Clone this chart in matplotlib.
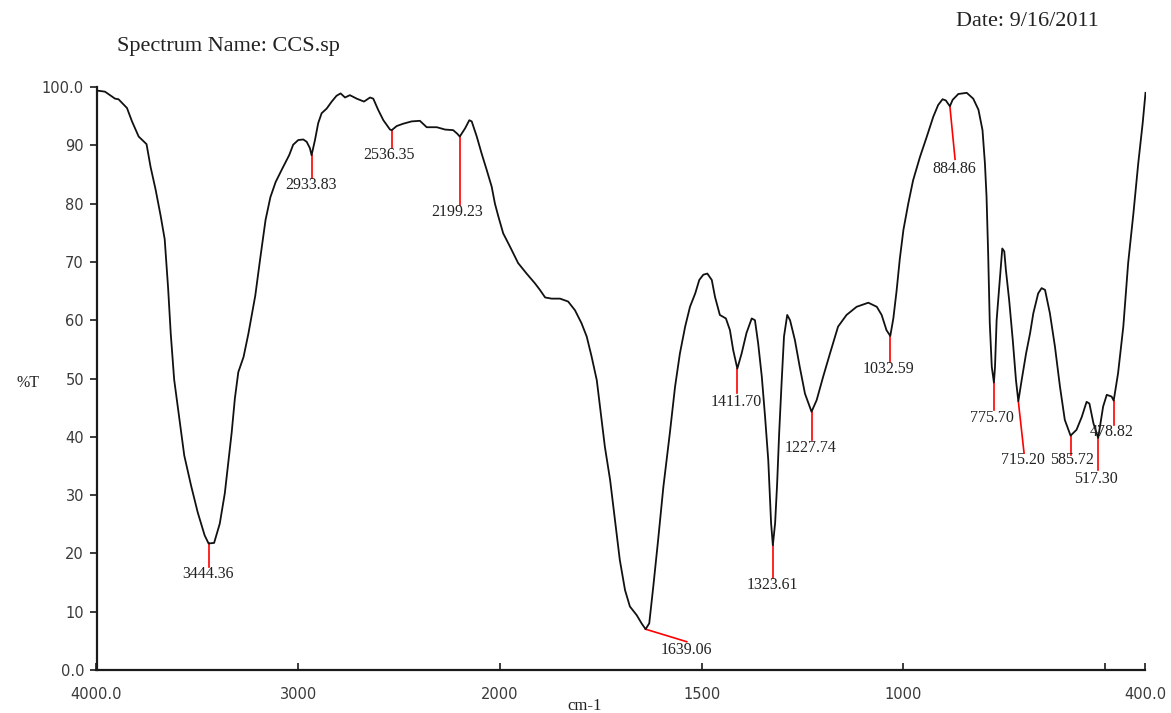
import numpy as np
import matplotlib
matplotlib.use("Agg")
import matplotlib.pyplot as plt

# ---- spectrum data (wavenumber in cm-1, transmittance in %T) ----
wavenumber = [
    4000, 3958, 3908, 3891, 3849, 3824, 3791, 3752, 3732, 3707, 3682, 3662,
    3645, 3632, 3615, 3590, 3565, 3531, 3498, 3464, 3444.36, 3417, 3389, 3364,
    3347, 3330, 3314, 3297, 3271, 3247, 3213, 3188, 3162, 3138, 3112, 3079,
    3045, 3025, 3000, 2975, 2958, 2942, 2933.83, 2917, 2901, 2884, 2859, 2834,
    2810, 2790, 2768, 2744, 2710, 2674, 2644, 2628, 2604, 2578, 2545, 2536.35,
    2512, 2480, 2438, 2397, 2363, 2313, 2272, 2232, 2212, 2199.23, 2173, 2152,
    2140, 2115, 2091, 2066, 2041, 2025, 2008, 1992, 1975, 1955, 1934, 1913,
    1901, 1888, 1872, 1851, 1831, 1814, 1798, 1785, 1773, 1760, 1752, 1740,
    1727, 1715, 1703, 1690, 1678, 1661, 1649, 1639.06, 1630, 1620, 1608, 1595,
    1579, 1566, 1554, 1541, 1529, 1516, 1506, 1496, 1486, 1475, 1467, 1455,
    1440, 1430, 1422, 1411.70, 1401, 1389, 1376, 1368, 1360, 1351, 1343, 1335,
    1328, 1323.61, 1318, 1313, 1308, 1302, 1296, 1288, 1281, 1269, 1257, 1244,
    1227.74, 1215, 1199, 1182, 1162, 1141, 1116, 1087, 1066, 1054, 1042,
    1032.59, 1025, 1017, 1009, 1000, 988, 976, 959, 942, 926, 914, 903, 895,
    884.86, 878, 864, 843, 827, 814, 804, 798, 794, 790, 786, 781, 775.70, 773,
    769, 761, 755, 750, 746, 738, 729, 721, 715.20, 707, 696, 686, 678, 666,
    657.5, 649, 637, 624.5, 612, 600, 585.72, 571, 558, 546, 539, 529, 517.30,
    513, 505, 496, 484, 478.82, 468, 455, 443, 430, 418, 407, 400,
]
transmittance = [
    99.4, 99.2, 98.0, 97.9, 96.4, 94.1, 91.5, 90.2, 86.3, 82.4, 77.9, 73.9,
    65.5, 57.7, 49.8, 43.3, 36.8, 31.6, 27.0, 23.1, 21.7, 21.8, 25.1, 30.3,
    35.5, 40.7, 46.6, 51.1, 53.7, 57.7, 64.2, 70.7, 77.2, 81.1, 83.7, 86.0,
    88.3, 90.1, 90.9, 91.0, 90.6, 89.5, 88.3, 90.9, 93.8, 95.5, 96.3, 97.5,
    98.5, 98.9, 98.2, 98.6, 98.0, 97.5, 98.2, 98.0, 96.1, 94.3, 92.7, 92.6,
    93.3, 93.7, 94.1, 94.2, 93.1, 93.1, 92.7, 92.6, 92.0, 91.5, 92.9, 94.3,
    94.1, 91.5, 88.6, 85.8, 82.9, 80.0, 77.8, 74.9, 72.6, 69.8, 68.0, 66.3,
    65.2, 63.9, 63.7, 63.7, 63.2, 61.7, 59.5, 57.2, 53.8, 49.7, 45.2, 38.3,
    32.6, 25.7, 18.9, 13.7, 10.9, 9.4, 8.0, 7.0, 8.0, 14.3, 22.3, 31.4,
    40.6, 48.6, 54.3, 58.9, 62.3, 64.6, 66.9, 67.8, 68.0, 66.9, 64.0, 60.9,
    60.3, 58.3, 54.9, 51.7, 54.3, 57.8, 60.3, 60.0, 56.0, 50.3, 43.5, 36.0,
    25.2, 21.4, 25.2, 32.0, 40.6, 49.2, 57.2, 60.9, 60.0, 56.6, 52.0, 47.4,
    44.3, 46.3, 50.3, 54.3, 58.9, 60.9, 62.3, 63.0, 62.3, 60.9, 58.3,
    57.3, 60.3, 65.0, 70.5, 75.5, 80.0, 84.0, 88.0, 91.5, 94.9, 96.9, 97.9, 97.7,
    96.7, 97.8, 98.8, 99.0, 98.0, 96.1, 92.6, 86.9, 81.2, 71.5, 59.5, 52.0, 49.3, 52.0,
    60.0, 66.9, 72.3, 71.8, 68.6, 63.5, 56.6, 49.7, 46.1, 49.7, 54.3, 57.8, 61.2, 64.6,
    65.5, 65.2, 61.2, 55.5, 48.6, 42.9, 40.2, 41.2, 43.4, 46.0, 45.7, 42.3, 39.8,
    41.7, 45.2, 47.2, 46.9, 46.2, 50.9, 58.9, 69.8, 78.3, 86.9, 93.8, 99.0,
]

# ---- labelled peaks ----
peak_wn = [3444.36, 2933.83, 2536.35, 2199.23, 1639.06, 1411.70, 1323.61,
           1227.74, 1032.59, 884.86, 775.70, 715.20, 585.72, 517.30, 478.82]
peak_t = [21.7, 88.3, 92.6, 91.5, 7.0, 51.7, 21.4,
          44.3, 57.3, 96.7, 49.3, 46.1, 40.2, 39.8, 46.2]
peak_text = ["3444.36", "2933.83", "2536.35", "2199.23", "1639.06", "1411.70",
             "1323.61", "1227.74", "1032.59", "884.86", "775.70", "715.20",
             "585.72", "517.30", "478.82"]

# leader-line end (wn, %T) and label centre (wn, %T) for each peak
leader_end = [(3444.36, 17.7), (2933.83, 84.4), (2536.35, 89.5), (2199.23, 79.8),
              (1537, 4.85), (1411.70, 47.5), (1323.61, 15.7), (1227.74, 39.5),
              (1032.59, 52.9), (872, 87.6), (775.70, 44.6), (701, 37.2),
              (585.72, 36.9), (517.30, 34.3), (478.82, 42.0)]
label_pos = [(3447, 16.5), (2937, 83.2), (2550, 88.3), (2214, 78.6),
             (1539, 3.4), (1415, 46.0), (1326, 14.6), (1229, 38.0),
             (1038, 51.6), (875, 85.9), (781, 43.2), (704, 36.0),
             (583, 36.0), (523, 32.7), (483, 40.9)]

x_ticks = [4000, 3000, 2000, 1500, 1000, 500, 400]
x_tick_labels = ["4000.0", "3000", "2000", "1500", "1000", "", "400.0"]
y_ticks = [0, 10, 20, 30, 40, 50, 60, 70, 80, 90, 100]
y_tick_labels = ["0.0", "10", "20", "30", "40", "50", "60", "70", "80", "90", "100.0"]


# abscissa expands by a factor of two below 2000 cm-1
def fwd(x):
    x = np.asarray(x, dtype=float)
    return np.where(x > 2000, 2000 + (x - 2000) / 2.0, x)


def inv(u):
    u = np.asarray(u, dtype=float)
    return np.where(u > 2000, 2000 + (u - 2000) * 2.0, u)


W, H = 1171, 713
fig = plt.figure(figsize=(W / 100, H / 100), dpi=100)
fig.patch.set_facecolor("white")
ax = fig.add_axes([96.5 / W, 43 / H, 1049 / W, 583 / H])
ax.set_xscale("function", functions=(fwd, inv))
ax.set_xlim(4000, 400)
ax.set_ylim(0, 100)

ax.plot(wavenumber, transmittance, color="#111111", lw=1.3, solid_joinstyle="round",
        zorder=3)

serif = ["Liberation Serif", "DejaVu Serif"]
for wn, t, txt, end, lab in zip(peak_wn, peak_t, peak_text, leader_end, label_pos):
    ax.plot([wn, end[0]], [t, end[1]], color="#ff0000", lw=1.2, zorder=2,
            clip_on=False)
    ax.text(lab[0], lab[1], txt, ha="center", va="center", fontsize=11.5,
            family=serif, color="#222222", zorder=4, clip_on=False)

for side in ("top", "right"):
    ax.spines[side].set_visible(False)
for side in ("left", "bottom"):
    ax.spines[side].set_linewidth(1.6)
    ax.spines[side].set_color("#1a1a1a")

ax.set_xticks(x_ticks)
ax.set_xticklabels(x_tick_labels)
ax.minorticks_off()
ax.set_yticks(y_ticks)
ax.set_yticklabels(y_tick_labels)
ax.tick_params(axis="x", direction="in", length=5, width=1.2, pad=12,
               labelsize=10.5, labelcolor="#3a3a3a", color="#1a1a1a")
ax.tick_params(axis="y", direction="out", length=5, width=1.2, pad=4,
               labelsize=10.5, labelcolor="#3a3a3a", color="#1a1a1a")
for lbl in ax.get_xticklabels() + ax.get_yticklabels():
    lbl.set_family(["DejaVu Sans"])

fig.text(228 / W, 1 - 47 / H, "Spectrum Name: CCS.sp", ha="center", va="center",
         fontsize=16, family=serif, color="#222222")
fig.text(1027 / W, 1 - 22 / H, "Date: 9/16/2011", ha="center", va="center",
         fontsize=16, family=serif, color="#222222")
fig.text(28 / W, 1 - 383 / H, "%T", ha="center", va="center",
         fontsize=11.5, family=serif, color="#222222")
fig.text(585 / W, 1 - 706 / H, "cm-1", ha="center", va="center",
         fontsize=12, family=serif, color="#222222")

fig.savefig("out.png", dpi=100, facecolor="white")
